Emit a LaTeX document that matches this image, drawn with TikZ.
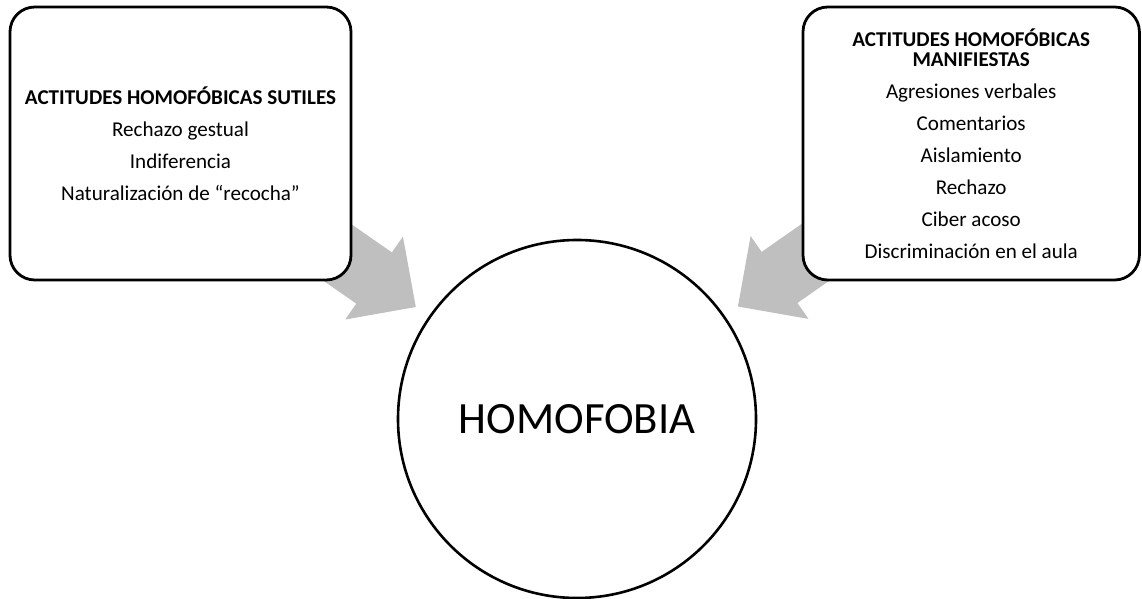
\documentclass[tikz,border=0pt]{standalone}
\usepackage{fontspec}
\setmainfont{Carlito}
\usepackage{tikz}
\usetikzlibrary{positioning,arrows.meta,backgrounds}

\begin{document}
\begin{tikzpicture}
\tikzstyle{actitud}=[draw, line width=0.07cm, rounded corners=0.62cm, fill=white, align=center, inner sep=0pt, font=\fontsize{15pt}{22.76pt}\selectfont]
\tikzstyle{garrow}=[draw=gray!50, line width=1.56cm, -{Triangle[width=2.52cm,length=1.27cm,line width=1pt]}, shorten >=0.4cm]

\useasboundingbox (0,0) rectangle (28.55,14.95);

\node [actitud, minimum width=8.525cm, minimum height=6.825cm] (sutiles) at (4.5125,11.3625)
    {\textbf{ACTITUDES HOMOFÓBICAS SUTILES}\\Rechazo gestual\\Indiferencia\\Naturalización de “recocha”};
\node [actitud, minimum width=8.41cm, minimum height=6.825cm] (manifiestas) at (24.28,11.3625)
    {\textbf{ACTITUDES HOMOFÓBICAS}\\[-8.5pt]\textbf{MANIFIESTAS}\\Agresiones verbales\\Comentarios\\Aislamiento\\Rechazo\\Ciber acoso\\Discriminación en el aula};
\node [draw, circle, line width=0.065cm, minimum size=8.95cm, font=\fontsize{31.8pt}{38pt}\selectfont] (homofobia) at (14.425,4.475) {HOMOFOBIA};

% flechas grises detras de los cuadros
\begin{scope}[on background layer]
\draw [garrow] (sutiles.center) -- (homofobia);
\draw [garrow] (manifiestas.center) -- (homofobia);
\end{scope}
\end{tikzpicture}
\end{document}
